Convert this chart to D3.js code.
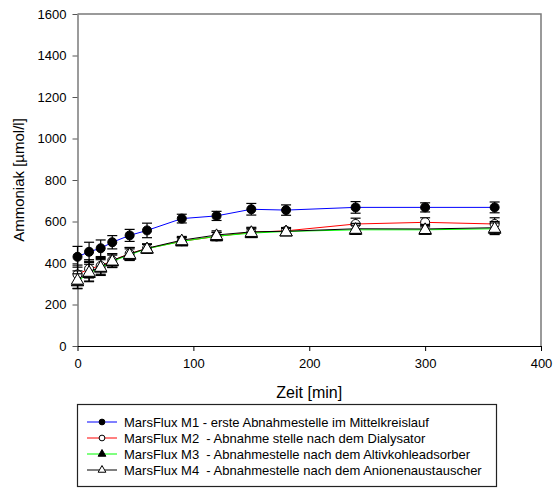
<!DOCTYPE html>
<html>
<head>
<meta charset="utf-8">
<script src="https://cdn.jsdelivr.net/npm/d3@7"></script>
<style>
  html, body { margin: 0; padding: 0; background: #fff; }
  svg { display: block; font-family: Arial, "Liberation Sans", sans-serif; }
  .legend-label { white-space: pre; }
</style>
</head>
<body>
<svg id="chart" width="553" height="488"></svg>
<script>
// Sampling times in minutes
const times = [0, 10, 20, 30, 45, 60, 90, 120, 150, 180, 240, 300, 360];

// Ammonia concentration (µmol/l) per sampling point, mean values
const m1Values = [430, 454, 471, 500, 533, 557, 614, 627, 659, 655, 668, 668, 668];
const m2Values = [345, 372, 386, 412, 445, 470, 505, 528, 548, 555, 588, 596, 588];
const m3Values = [312, 352, 378, 408, 440, 469, 504, 529, 544, 552, 560, 560, 565];
const m4Values = [320, 358, 382, 412, 444, 471, 510, 535, 550, 553, 565, 564, 570];

// Standard deviations
const m1Errors = [50, 46, 40, 32, 29, 35, 21, 22, 28, 25, 28, 22, 26];
const m2Errors = [45, 44, 40, 32, 30, 22, 18, 20, 20, 16, 28, 22, 30];
const m3Errors = [36, 42, 38, 30, 28, 20, 17, 18, 20, 15, 22, 20, 28];
const m4Errors = [42, 45, 40, 33, 30, 20, 18, 20, 22, 16, 26, 22, 30];

const seriesNames = [
  "MarsFlux M1 - erste Abnahmestelle im Mittelkreislauf",
  "MarsFlux M2  - Abnahme stelle nach dem Dialysator",
  "MarsFlux M3  - Abnahmestelle nach dem Altivkohleadsorber",
  "MarsFlux M4  - Abnahmestelle nach dem Anionenaustauscher"
];

const xTicks = [0, 100, 200, 300, 400];
const yTicks = [0, 200, 400, 600, 800, 1000, 1200, 1400, 1600];

const series = [
  { name: seriesNames[0], values: m1Values, errors: m1Errors, color: "#0000ff", symbol: "circle", fill: "#000" },
  { name: seriesNames[1], values: m2Values, errors: m2Errors, color: "#ff0000", symbol: "circle", fill: "#fff" },
  { name: seriesNames[2], values: m3Values, errors: m3Errors, color: "#00ff00", symbol: "triangle", fill: "#000" },
  { name: seriesNames[3], values: m4Values, errors: m4Errors, color: "#000000", symbol: "triangle", fill: "#fff" }
];

const svg = d3.select("#chart");
const plotLeft = 77.5, plotRight = 541, plotTop = 14, plotBottom = 346;

const x = d3.scaleLinear().domain([0, 400]).range([plotLeft, plotRight]);
const y = d3.scaleLinear().domain([0, 1600]).range([plotBottom, plotTop]);

// Frame: top and right borders
svg.append("path")
  .attr("d", `M${plotLeft},${plotTop}H${plotRight}V${plotBottom}`)
  .attr("fill", "none")
  .attr("stroke", "#7a7a7a")
  .attr("stroke-width", 1.5);

// Y axis
const yAxis = svg.append("g")
  .attr("transform", `translate(${plotLeft},0)`)
  .call(d3.axisLeft(y).tickValues(yTicks).tickFormat(d3.format("d"))
    .tickSize(5).tickPadding(6).tickSizeOuter(0));
yAxis.select(".domain").attr("stroke", "#7a7a7a").attr("stroke-width", 1.5);
yAxis.selectAll(".tick line").attr("stroke", "#555");
yAxis.selectAll("text").attr("font-size", 13).attr("fill", "#000")
  .attr("font-family", "Arial, 'Liberation Sans', sans-serif");

// X axis
const xAxis = svg.append("g")
  .attr("transform", `translate(0,${plotBottom})`)
  .call(d3.axisBottom(x).tickValues(xTicks).tickFormat(d3.format("d"))
    .tickSize(5).tickPadding(8).tickSizeOuter(0));
xAxis.select(".domain").attr("stroke", "#000").attr("stroke-width", 1.2);
xAxis.selectAll("text").attr("font-size", 13).attr("fill", "#000")
  .attr("font-family", "Arial, 'Liberation Sans', sans-serif");

// Axis titles
svg.append("text")
  .attr("x", (plotLeft + plotRight) / 2)
  .attr("y", 398)
  .attr("text-anchor", "middle")
  .attr("font-size", 16)
  .text("Zeit [min]");

svg.append("text")
  .attr("transform", `translate(24,${(plotTop + plotBottom) / 2}) rotate(-90)`)
  .attr("text-anchor", "middle")
  .attr("font-size", 15)
  .text("Ammoniak [µmol/l]");

const symbolPath = (type, size) =>
  d3.symbol().type(type === "circle" ? d3.symbolCircle : d3.symbolTriangle).size(size)();

const plot = svg.append("g");

series.forEach(s => {
  const pts = times.map((t, i) => ({ t, v: s.values[i], e: s.errors[i] }));

  // Connecting line
  plot.append("path")
    .datum(pts)
    .attr("fill", "none")
    .attr("stroke", s.color)
    .attr("stroke-width", 1)
    .attr("d", d3.line().x(d => x(d.t)).y(d => y(d.v)));

  // Error bars
  const eb = plot.append("g").attr("stroke", "#000").attr("stroke-width", 1.2);
  pts.forEach(d => {
    const cx = x(d.t), y0 = y(d.v - d.e), y1 = y(d.v + d.e);
    eb.append("line").attr("x1", cx).attr("x2", cx).attr("y1", y0).attr("y2", y1);
    eb.append("line").attr("x1", cx - 5).attr("x2", cx + 5).attr("y1", y0).attr("y2", y0);
    eb.append("line").attr("x1", cx - 5).attr("x2", cx + 5).attr("y1", y1).attr("y2", y1);
  });

  // Markers
  plot.append("g").selectAll("path")
    .data(pts)
    .join("path")
    .attr("transform", d => `translate(${x(d.t)},${y(d.v) + (s.symbol === "triangle" ? 1 : 0)})`)
    .attr("d", symbolPath(s.symbol, s.symbol === "circle" ? 64 : 66))
    .attr("fill", s.fill)
    .attr("stroke", "#000")
    .attr("stroke-width", 1);
});

// Legend
const legend = svg.append("g");
legend.append("rect")
  .attr("x", 77.5).attr("y", 404.5)
  .attr("width", 419).attr("height", 82)
  .attr("fill", "#fff")
  .attr("stroke", "#222")
  .attr("stroke-width", 1.2);

series.forEach((s, i) => {
  const ly = 422 + i * 16;
  const g = legend.append("g");
  g.append("line")
    .attr("x1", 87).attr("x2", 117)
    .attr("y1", ly).attr("y2", ly)
    .attr("stroke", s.color).attr("stroke-width", 1);
  g.append("path")
    .attr("transform", `translate(102,${ly})`)
    .attr("d", symbolPath(s.symbol, 26))
    .attr("fill", s.fill)
    .attr("stroke", "#000")
    .attr("stroke-width", 1);
  g.append("text")
    .attr("class", "legend-label")
    .attr("x", 124)
    .attr("y", ly)
    .attr("dy", "0.36em")
    .attr("font-size", 13)
    .text(s.name);
});
</script>
</body>
</html>
